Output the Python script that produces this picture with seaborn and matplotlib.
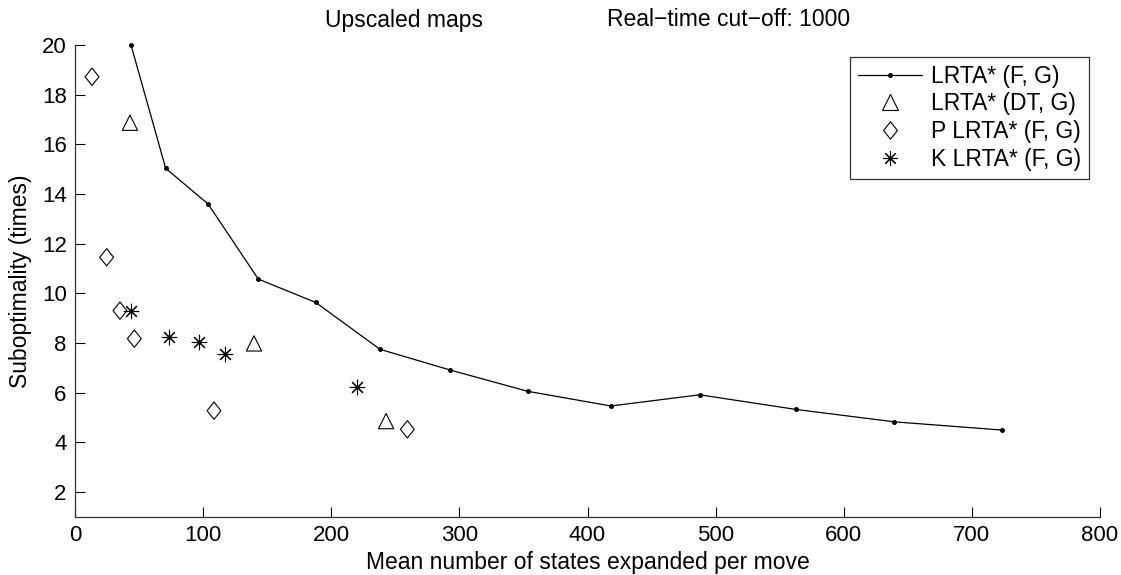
import numpy as np
import pandas as pd
import matplotlib
matplotlib.use("Agg")
import matplotlib.pyplot as plt
from matplotlib.path import Path
from matplotlib.lines import Line2D
import seaborn as sns

# data
lrta_x = [43.7, 70.8, 103.8, 143.1, 187.9, 238.1, 292.7, 353.4, 418.2, 487.6, 562.8, 639.6, 723.6]
lrta_y = [20.0, 15.03, 13.6, 10.57, 9.63, 7.74, 6.91, 6.05, 5.46, 5.91, 5.32, 4.82, 4.49]

dt_x = [42.9, 139.7, 242.8]
dt_y = [16.87, 7.98, 4.85]

p_x = [13.3, 24.7, 35.1, 46.3, 108.5, 259.4]
p_y = [18.72, 11.45, 9.3, 8.17, 5.27, 4.52]

k_x = [43.7, 73.4, 97.1, 117.3, 220.1]
k_y = [9.3, 8.25, 8.03, 7.55, 6.23]

labels = ["LRTA* (F, G)", "LRTA* (DT, G)", "P LRTA* (F, G)", "K LRTA* (F, G)"]

sns.set_style("ticks")
plt.rcParams['font.family'] = ['Liberation Sans', 'DejaVu Sans']
plt.rcParams['font.size'] = 16.5
plt.rcParams['text.color'] = 'black'
plt.rcParams['axes.labelcolor'] = 'black'
plt.rcParams['xtick.color'] = 'black'
plt.rcParams['ytick.color'] = 'black'
plt.rcParams['xtick.direction'] = 'in'
plt.rcParams['ytick.direction'] = 'in'

diamond = Path([(0, 1), (0.8, 0), (0, -1), (-0.8, 0), (0, 1)],
               [Path.MOVETO, Path.LINETO, Path.LINETO, Path.LINETO, Path.CLOSEPOLY])
star = (8, 2, 0)

fig = plt.figure(figsize=(11.21, 5.75), dpi=100)
ax = fig.add_axes([75 / 1121, 1 - 516.7 / 575, 1025 / 1121, 471.7 / 575])

sns.lineplot(x=lrta_x, y=lrta_y, ax=ax, color='black', linewidth=0.9,
             marker='o', markersize=3.6, markeredgewidth=0, sort=False, clip_on=False)
sns.scatterplot(x=dt_x, y=dt_y, ax=ax, marker='^', s=11 ** 2,
                facecolors='none', edgecolor='black', linewidth=0.8)
sns.scatterplot(x=p_x, y=p_y, ax=ax, marker=diamond, s=12.5 ** 2,
                facecolors='none', edgecolor='black', linewidth=0.8)
sns.scatterplot(x=k_x, y=k_y, ax=ax, marker=star, s=10.5 ** 2,
                color='black', linewidth=0.8)

ax.set_xlim(0, 800)
ax.set_ylim(1, 20)
ax.set_xticks(range(0, 801, 100))
ax.set_yticks(range(2, 21, 2))
ax.tick_params(length=7, width=0.8, colors='black', labelsize=16, pad=6)
sns.despine(ax=ax)
for s in ['left', 'bottom']:
    ax.spines[s].set_linewidth(0.9)
    ax.spines[s].set_color('#333333')

ax.set_xlabel("")
ax.set_ylabel("")
fig.text(588 / 1121, 1 - 562 / 575, "Mean number of states expanded per move",
         ha='center', va='center', fontsize=16.5, color='black')
fig.text(21 / 1121, 1 - 281 / 575, "Suboptimality (times)", rotation=90,
         ha='center', va='center', fontsize=16.5, color='black')

fig.text(325 / 1121, 1 - 20 / 575, "Upscaled maps", ha='left', va='center',
         fontsize=16.5, color='black')
fig.text(850 / 1121, 1 - 20 / 575, "Real\u2212time cut\u2212off: 1000", ha='right', va='center',
         fontsize=16.5, color='black')

handles = [
    Line2D([], [], color='black', linewidth=0.9, marker='o', markersize=3.6, markeredgewidth=0),
    Line2D([], [], linestyle='none', marker='^', markersize=11, markerfacecolor='none',
           markeredgecolor='black', markeredgewidth=0.8),
    Line2D([], [], linestyle='none', marker=diamond, markersize=12.5, markerfacecolor='none',
           markeredgecolor='black', markeredgewidth=0.8),
    Line2D([], [], linestyle='none', marker=star, markersize=10.5, color='black',
           markeredgewidth=0.8),
]
leg = ax.legend(handles, labels, loc='upper right', bbox_to_anchor=(0.9896, 0.975),
                borderaxespad=0, frameon=True, fancybox=False, edgecolor='black',
                handlelength=2.8, handletextpad=0.4, labelspacing=0.2,
                borderpad=0.35, numpoints=1, fontsize=16.5, labelcolor='black')
leg.get_frame().set_linewidth(0.9)

fig.savefig("out.png", dpi=100)
